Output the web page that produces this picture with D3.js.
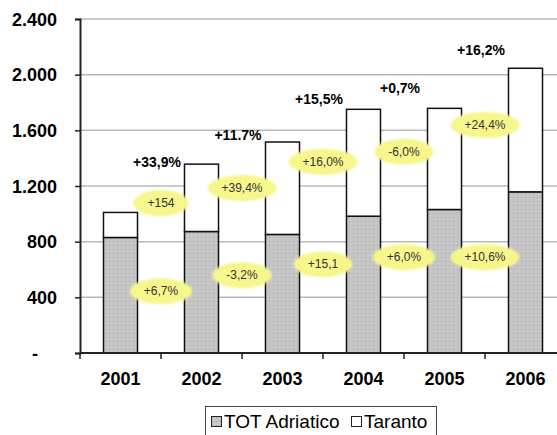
<!DOCTYPE html>
<html>
<head>
<meta charset="utf-8">
<script src="https://cdn.jsdelivr.net/npm/d3@7"></script>
<style>
  body { margin: 0; background: #fff; }
  svg { display: block; font-family: "Liberation Sans", Arial, sans-serif; }
</style>
</head>
<body>
<script>
// values (thousands)
const years = ['2001', '2002', '2003', '2004', '2005', '2006'];
const adriatico = [830, 873, 852, 983, 1031, 1158];
const taranto = [180, 484, 664, 768, 727, 888];
const yTicks = [0, 400, 800, 1200, 1600, 2000, 2400];

// growth labels between consecutive years
const totalGrowth = ['+33,9%', '+11.7%', '+15,5%', '+0,7%', '+16,2%'];
const tarantoGrowth = ['+154', '+39,4%', '+16,0%', '-6,0%', '+24,4%'];
const adriaticoGrowth = ['+6,7%', '-3,2%', '+15,1', '+6,0%', '+10,6%'];

// where the labels sit, in axis units
const totalLabelAt = [1335, 1530, 1787, 1867, 2141];
const tarantoLabelAt = [1077, 1185, 1375, 1446, 1638];
const adriaticoLabelAt = [444, 559, 638, 688, 688];

const W = 557, H = 435;
const plotLeft = 80, plotRight = 566, plotTop = 19, plotBottom = 353;

const svg = d3.select('body').append('svg')
    .attr('width', W)
    .attr('height', H);

const defs = svg.append('defs');

// dotted gray fill
const pat = defs.append('pattern')
    .attr('id', 'dots')
    .attr('width', 4).attr('height', 4)
    .attr('patternUnits', 'userSpaceOnUse');
pat.append('rect').attr('width', 4).attr('height', 4).attr('fill', '#c6c6c6');
pat.append('rect').attr('x', 1).attr('y', 1).attr('width', 1).attr('height', 1).attr('fill', '#a6a6a6');

defs.append('filter').attr('id', 'soft')
    .append('feGaussianBlur').attr('stdDeviation', 0.9);

const x = d3.scaleBand()
    .domain(years)
    .range([plotLeft, plotRight])
    .paddingInner(0.58)
    .paddingOuter(0.29);

const y = d3.scaleLinear()
    .domain([0, 2400])
    .range([plotBottom, plotTop]);

const step = x.step();
const boundary = i => x(years[i]) + x.bandwidth() + step * x.paddingInner() / 2;

// gridlines
svg.append('g')
    .selectAll('line')
    .data(yTicks.slice(1))
    .enter().append('line')
    .attr('x1', plotLeft).attr('x2', W)
    .attr('y1', d => y(d)).attr('y2', d => y(d))
    .attr('stroke', '#b8b8b8')
    .attr('stroke-width', 1.5);

// stacked bars
const stack = years.map((yr, i) => ({ year: yr, a: adriatico[i], t: taranto[i] }));

svg.selectAll('rect.adr')
    .data(stack)
    .enter().append('rect')
    .attr('class', 'adr')
    .attr('x', d => x(d.year))
    .attr('y', d => y(d.a))
    .attr('width', x.bandwidth())
    .attr('height', d => y(0) - y(d.a))
    .attr('fill', 'url(#dots)')
    .attr('stroke', '#111')
    .attr('stroke-width', 1.5);

svg.selectAll('rect.tar')
    .data(stack)
    .enter().append('rect')
    .attr('class', 'tar')
    .attr('x', d => x(d.year))
    .attr('y', d => y(d.a + d.t))
    .attr('width', x.bandwidth())
    .attr('height', d => y(d.a) - y(d.a + d.t))
    .attr('fill', '#fff')
    .attr('stroke', '#111')
    .attr('stroke-width', 1.5);

// y axis
const yAxis = svg.append('g')
    .attr('transform', 'translate(' + plotLeft + ',0)')
    .call(d3.axisLeft(y).tickValues(yTicks).tickSize(5).tickPadding(18)
        .tickFormat(d => d === 0 ? '-' : d3.format(',')(d).replace(',', '.')));
yAxis.select('.domain').attr('stroke', '#222').attr('stroke-width', 2);
yAxis.selectAll('.tick line').attr('stroke', '#222').attr('stroke-width', 1.5);
yAxis.selectAll('.tick text')
    .attr('font-size', '18px')
    .attr('font-weight', 'bold')
    .attr('font-family', '"Liberation Sans", Arial, sans-serif')
    .attr('fill', '#000')
    .attr('dy', '0.35em')
    .filter(d => d === 0)
    .attr('x', -45)
    .attr('text-anchor', 'middle');

// x axis: ticks at category boundaries
const xAxisG = svg.append('g');
xAxisG.append('line')
    .attr('x1', plotLeft).attr('x2', W)
    .attr('y1', plotBottom).attr('y2', plotBottom)
    .attr('stroke', '#222').attr('stroke-width', 2);
xAxisG.selectAll('line.tk')
    .data([-1, 0, 1, 2, 3, 4])
    .enter().append('line')
    .attr('class', 'tk')
    .attr('x1', i => i < 0 ? plotLeft : boundary(i))
    .attr('x2', i => i < 0 ? plotLeft : boundary(i))
    .attr('y1', plotBottom).attr('y2', plotBottom + 6)
    .attr('stroke', '#222').attr('stroke-width', 1.5);
xAxisG.selectAll('text')
    .data(years)
    .enter().append('text')
    .attr('x', d => x(d) + x.bandwidth() / 2)
    .attr('y', 385)
    .attr('text-anchor', 'middle')
    .attr('font-size', '18px')
    .attr('font-weight', 'bold')
    .text(d => d);

// total growth, bold above bars
svg.selectAll('text.tot')
    .data(totalGrowth)
    .enter().append('text')
    .attr('class', 'tot')
    .attr('x', (d, i) => boundary(i) - 4)
    .attr('y', (d, i) => y(totalLabelAt[i]))
    .attr('text-anchor', 'middle')
    .attr('font-size', '14px')
    .attr('font-weight', 'bold')
    .attr('fill', '#000')
    .text(d => d);

// yellow bubbles
function bubbles(labels, at, cls) {
    const g = svg.selectAll('g.' + cls)
        .data(labels)
        .enter().append('g')
        .attr('class', cls)
        .attr('transform', (d, i) => 'translate(' + boundary(i) + ',' + y(at[i]) + ')');
    const ell = g.append('ellipse')
        .attr('fill', '#f6f68c')
        .attr('filter', 'url(#soft)')
        .attr('ry', 13);
    const txt = g.append('text')
        .attr('text-anchor', 'middle')
        .attr('dy', '0.35em')
        .attr('font-size', '12px')
        .attr('fill', '#333')
        .text(d => d);
    ell.attr('rx', function (d, i) { return txt.nodes()[i].getComputedTextLength() / 2 + 14; });
}
bubbles(tarantoGrowth, tarantoLabelAt, 'tg');
bubbles(adriaticoGrowth, adriaticoLabelAt, 'ag');

// legend
const legend = svg.append('g');
legend.append('rect')
    .attr('x', 205.5).attr('y', 406.5)
    .attr('width', 231).attr('height', 30)
    .attr('fill', '#fff')
    .attr('stroke', '#444');
const items = [
    { name: 'TOT Adriatico', fill: 'url(#dots)', x: 211 },
    { name: 'Taranto', fill: '#fff', x: 351 }
];
const li = legend.selectAll('g.li')
    .data(items)
    .enter().append('g')
    .attr('class', 'li')
    .attr('transform', d => 'translate(' + d.x + ',0)');
li.append('rect')
    .attr('x', 0.5).attr('y', 416.5)
    .attr('width', 10).attr('height', 10)
    .attr('fill', d => d.fill)
    .attr('stroke', '#222');
li.append('text')
    .attr('x', 13)
    .attr('y', 428)
    .attr('font-size', '19px')
    .attr('fill', '#000')
    .text(d => d.name);
</script>
</body>
</html>
